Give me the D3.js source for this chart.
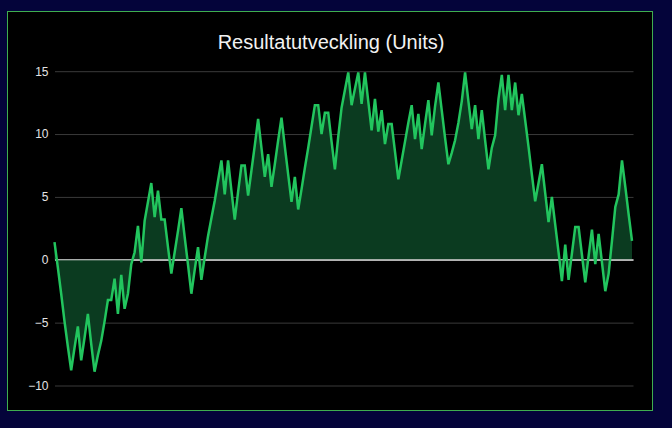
<!DOCTYPE html>
<html>
<head>
<meta charset="utf-8">
<script src="https://cdn.jsdelivr.net/npm/d3@7"></script>
<style>
  html, body { margin: 0; padding: 0; background: #04043a; }
  svg { display: block; }
</style>
</head>
<body>
<svg id="chart" width="672" height="428"></svg>
<script>
const title = "Resultatutveckling (Units)";
const yTicks = [-10, -5, 0, 5, 10, 15];
const values = [
  1.4, -0.6, -2.7, -4.9, -6.9, -8.8, -7.0, -5.3, -8.0, -6.2,
  -4.3, -6.7, -8.9, -7.6, -6.45, -4.9, -3.2, -3.2, -1.5, -4.3,
  -1.2, -3.9, -2.7, -0.35, 0.6, 2.7, -0.2, 3.1, 4.6, 6.1,
  3.4, 5.5, 3.2, 3.2, 1.0, -1.1, 0.6, 2.3, 4.1, 1.8,
  -0.4, -2.7, -0.8, 1.0, -1.6, 0.2, 1.9, 3.3, 4.7, 6.3,
  7.9, 5.2, 7.9, 5.5, 3.2, 5.4, 7.5, 7.5, 5.1, 7.1,
  9.1, 11.2, 8.9, 6.6, 8.4, 5.8, 7.6, 9.5, 11.3, 9.0,
  6.8, 4.6, 6.6, 4.0, 5.6, 7.3, 8.9, 10.6, 12.3, 12.3,
  10.0, 11.7, 11.7, 9.4, 7.2, 9.8, 12.1, 13.5, 14.9, 12.3,
  13.6, 14.9, 12.4, 14.9, 12.6, 10.3, 12.8, 10.2, 11.9, 9.2,
  10.8, 10.8, 8.6, 6.4, 7.9, 9.4, 10.9, 12.3, 9.6, 11.6,
  8.8, 10.8, 12.7, 9.9, 12.2, 14.1, 11.9, 9.7, 7.6, 8.5,
  9.5, 10.9, 12.6, 14.9, 12.6, 10.4, 12.3, 9.6, 11.9, 9.5,
  7.2, 8.9, 9.9, 12.8, 14.7, 11.9, 14.7, 11.9, 14.1, 11.5,
  13.2, 11.1, 9.0, 6.8, 4.65, 6.1, 7.6, 5.3, 3.0, 5.0,
  2.8, 0.6, -1.7, 1.2, -1.6, 0.5, 2.6, 2.6, 0.4, -1.8,
  0.3, 2.4, -0.35, 2.05, -0.2, -2.5, -1.1, 1.5, 4.2, 5.2,
  7.9, 5.8, 3.6, 1.5
];
const labels = values.map((d, i) => String(i + 1));

const svg = d3.select("#chart");
const W = 672, H = 428;

// outer background and panel
svg.append("rect").attr("x", 0).attr("y", 0).attr("width", W).attr("height", H).attr("fill", "#04043a");
svg.append("rect").attr("x", 7.5).attr("y", 11.5).attr("width", 645).attr("height", 399)
  .attr("fill", "#000").attr("stroke", "#3fae4f").attr("stroke-width", 1);

svg.append("text").attr("x", 331).attr("y", 49).attr("text-anchor", "middle")
  .attr("font-family", "Liberation Sans, Arial, sans-serif").attr("font-size", 20)
  .attr("fill", "#f2f2f2").text(title);

const x = d3.scalePoint().domain(labels).range([54.5, 632]);
const y = d3.scaleLinear().domain([-10, 15]).range([385.5, 71.2]);

// grid + y axis
const yAxis = d3.axisLeft(y).tickValues(yTicks).tickSize(0).tickPadding(0);
const ga = svg.append("g").attr("transform", "translate(48.5,0)").call(yAxis);
ga.select(".domain").remove();
ga.selectAll("text").attr("fill", "#e4e4e4").attr("font-size", 12)
  .attr("font-family", "Liberation Sans, Arial, sans-serif");

const grid = d3.axisLeft(y).tickValues(yTicks).tickSize(-(633.5 - 55)).tickFormat("");
const gg = svg.append("g").attr("transform", "translate(55,0)").call(grid);
gg.select(".domain").remove();
gg.selectAll("line").attr("stroke", d => d === 0 ? "#d8d8d8" : "#3a3a3a").attr("stroke-width", 1);

// area and line
const area = d3.area().x((d, i) => x(labels[i])).y0(y(0)).y1(d => y(d));
const line = d3.line().x((d, i) => x(labels[i])).y(d => y(d));

svg.append("path").datum(values).attr("d", area).attr("fill", "#0b3b20");
// redraw zero line above fill
svg.append("line").attr("x1", 55).attr("x2", 633.5).attr("y1", y(0)).attr("y2", y(0))
  .attr("stroke", "#d8d8d8").attr("stroke-width", 1);
svg.append("path").datum(values).attr("d", line).attr("fill", "none")
  .attr("stroke", "#22c55e").attr("stroke-width", 2.5).attr("stroke-linejoin", "miter");
</script>
</body>
</html>
